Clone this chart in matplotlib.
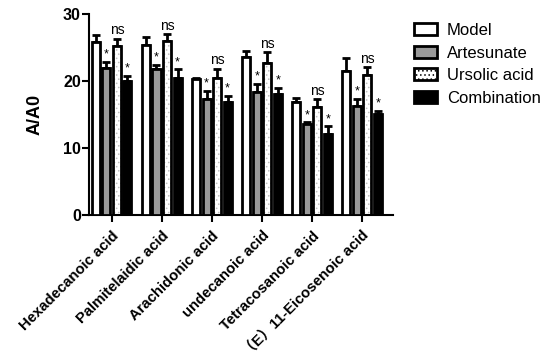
import numpy as np
import matplotlib.pyplot as plt

plt.rcParams['font.family'] = ['Liberation Sans', 'Noto Sans CJK SC']
plt.rcParams['font.weight'] = 'bold'
plt.rcParams['hatch.linewidth'] = 0.6

CATEGORIES = ['Hexadecanoic acid', 'Palmitelaidic acid', 'Arachidonic acid',
              'undecanoic acid', 'Tetracosanoic acid', '（E）11-Eicosenoic acid']
SERIES = ['Model', 'Artesunate', 'Ursolic acid', 'Combination']

model = [25.8, 25.3, 20.2, 23.6, 16.8, 21.5]
artesunate = [21.9, 21.7, 17.3, 18.3, 13.6, 16.3]
ursolic = [25.2, 26.0, 20.4, 22.7, 16.1, 20.9]
combination = [19.9, 20.4, 16.8, 18.0, 12.1, 15.1]

model_err = [1.0, 1.2, 0.2, 0.9, 0.6, 1.9]
artesunate_err = [0.9, 0.7, 1.2, 1.2, 0.2, 1.0]
ursolic_err = [1.1, 1.0, 1.4, 1.6, 1.2, 1.1]
combination_err = [0.8, 1.3, 0.9, 0.9, 1.1, 0.4]

# significance marks per series (Model has none)
marks = [None, '*', 'ns', '*']

values = [model, artesunate, ursolic, combination]
errors = [model_err, artesunate_err, ursolic_err, combination_err]
faces = ['white', '#9a9a9a', 'white', 'black']

fig = plt.figure(figsize=(5.5, 3.64), dpi=100)
ax = fig.add_axes([0.162, 0.41, 0.553, 0.552])

x = np.arange(len(CATEGORIES))
pitch = 0.21
width = 0.16
for i, (vals, errs, face) in enumerate(zip(values, errors, faces)):
    pos = x + (i - 1.5) * pitch
    ax.errorbar(pos, vals, yerr=[np.zeros(len(errs)), errs], fmt='none',
                ecolor='black', elinewidth=2, capsize=3, capthick=2, zorder=1)
    if i == 2:
        # light dotted fill for Ursolic acid
        ax.bar(pos, vals, width, color='white', edgecolor='#c0c0c0',
               hatch='....', linewidth=0, zorder=2)
    ax.bar(pos, vals, width, facecolor=face if i != 2 else 'none',
           edgecolor='black', linewidth=2, zorder=3)
    if marks[i]:
        for px, v, e in zip(pos, vals, errs):
            if marks[i] == '*':
                ax.text(px, v + e + 0.2, '*', ha='center', va='bottom',
                        fontsize=9, fontweight='normal')
            else:
                ax.text(px, v + e + 0.2, 'ns', ha='center', va='bottom',
                        fontsize=10, fontweight='normal')

ax.set_ylim(0, 30)
ax.set_xlim(-0.45, 5.62)
ax.set_yticks([0, 10, 20, 30])
ax.set_xticks(x)
ax.set_xticklabels(CATEGORIES, rotation=45, ha='right', rotation_mode='anchor',
                   fontsize=10.7, fontweight='bold')
for lab in ax.get_yticklabels():
    lab.set_fontsize(11.5)
    lab.set_fontweight('bold')
ax.set_ylabel('A/A0', fontsize=13, fontweight='bold', labelpad=14)
ax.tick_params(width=1.5, length=5, pad=1)
ax.tick_params(axis='x', pad=5)
for side in ['top', 'right']:
    ax.spines[side].set_visible(False)
for side in ['left', 'bottom']:
    ax.spines[side].set_linewidth(1.5)

# legend with a dotted patch for Ursolic acid
proxy = [plt.Rectangle((0, 0), 1, 1, facecolor=f, edgecolor='black', linewidth=2)
         for f in faces]
proxy[2].set_hatch('....')
leg = fig.legend(proxy, SERIES, loc='upper left', frameon=False,
                 handlelength=1.4, handleheight=0.75, labelspacing=0.45,
                 handletextpad=0.6, borderaxespad=0,
                 prop={'weight': 'normal', 'size': 12})
leg.set_bbox_to_anchor((0.74, 0.955), transform=fig.transFigure)

fig.savefig('out.png', dpi=100)
